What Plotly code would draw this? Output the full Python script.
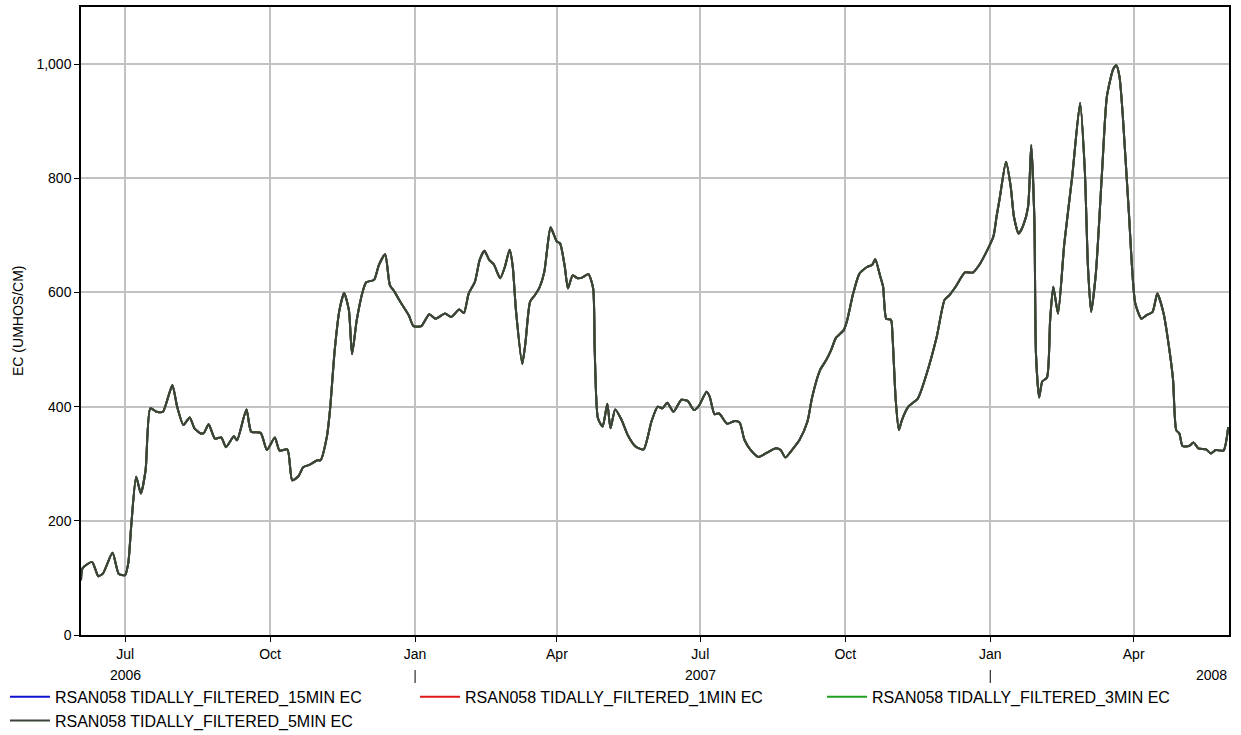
import plotly.graph_objects as go

# Tidally filtered EC at RSAN058 (umhos/cm), read on irregular dates
dates = [
    "2006-06-03", "2006-06-04", "2006-06-10", "2006-06-14", "2006-06-17", "2006-06-23",
    "2006-06-27", "2006-07-01", "2006-07-03", "2006-07-05", "2006-07-08", "2006-07-11",
    "2006-07-14", "2006-07-17", "2006-07-21", "2006-07-25", "2006-07-28", "2006-07-31",
    "2006-08-03", "2006-08-07", "2006-08-11", "2006-08-14", "2006-08-18", "2006-08-20",
    "2006-08-23", "2006-08-27", "2006-08-31", "2006-09-03", "2006-09-08", "2006-09-10",
    "2006-09-16", "2006-09-19", "2006-09-25", "2006-09-29", "2006-10-04", "2006-10-07",
    "2006-10-12", "2006-10-15", "2006-10-19", "2006-10-22", "2006-10-26", "2006-10-31",
    "2006-11-02", "2006-11-06", "2006-11-08", "2006-11-11", "2006-11-14", "2006-11-17",
    "2006-11-20", "2006-11-22", "2006-11-25", "2006-11-29", "2006-12-01", "2006-12-06",
    "2006-12-09", "2006-12-13", "2006-12-16", "2006-12-19", "2006-12-23", "2006-12-28",
    "2006-12-31", "2007-01-05", "2007-01-10", "2007-01-14", "2007-01-20", "2007-01-24",
    "2007-01-29", "2007-02-01", "2007-02-04", "2007-02-08", "2007-02-11", "2007-02-14",
    "2007-02-17", "2007-02-20", "2007-02-24", "2007-02-27", "2007-03-02", "2007-03-04",
    "2007-03-06", "2007-03-10", "2007-03-12", "2007-03-15", "2007-03-18", "2007-03-21",
    "2007-03-24", "2007-03-26", "2007-03-28", "2007-04-01", "2007-04-03", "2007-04-06",
    "2007-04-08", "2007-04-11", "2007-04-14", "2007-04-17", "2007-04-21", "2007-04-24",
    "2007-04-25", "2007-04-27", "2007-04-30", "2007-05-03", "2007-05-05", "2007-05-08",
    "2007-05-12", "2007-05-16", "2007-05-21", "2007-05-26", "2007-05-31", "2007-06-04",
    "2007-06-07", "2007-06-10", "2007-06-14", "2007-06-19", "2007-06-23", "2007-06-27",
    "2007-06-30", "2007-07-05", "2007-07-07", "2007-07-10", "2007-07-13", "2007-07-18",
    "2007-07-23", "2007-07-26", "2007-07-29", "2007-08-02", "2007-08-07", "2007-08-12",
    "2007-08-18", "2007-08-21", "2007-08-24", "2007-08-29", "2007-09-02", "2007-09-07",
    "2007-09-10", "2007-09-15", "2007-09-19", "2007-09-22", "2007-09-25", "2007-09-30",
    "2007-10-02", "2007-10-06", "2007-10-10", "2007-10-15", "2007-10-18", "2007-10-20",
    "2007-10-23", "2007-10-25", "2007-10-27", "2007-10-30", "2007-10-31", "2007-11-02",
    "2007-11-04", "2007-11-06", "2007-11-10", "2007-11-16", "2007-11-21", "2007-11-28",
    "2007-12-03", "2007-12-06", "2007-12-10", "2007-12-16", "2007-12-21", "2007-12-25",
    "2007-12-29", "2008-01-03", "2008-01-05", "2008-01-07", "2008-01-11", "2008-01-14",
    "2008-01-16", "2008-01-19", "2008-01-22", "2008-01-25", "2008-01-27", "2008-01-29",
    "2008-01-30", "2008-02-01", "2008-02-03", "2008-02-06", "2008-02-08", "2008-02-10",
    "2008-02-13", "2008-02-17", "2008-02-22", "2008-02-27", "2008-03-01", "2008-03-03",
    "2008-03-05", "2008-03-08", "2008-03-12", "2008-03-15", "2008-03-19", "2008-03-21",
    "2008-03-23", "2008-03-25", "2008-03-29", "2008-04-02", "2008-04-06", "2008-04-09",
    "2008-04-13", "2008-04-16", "2008-04-20", "2008-04-24", "2008-04-26", "2008-04-28",
    "2008-04-30", "2008-05-02", "2008-05-06", "2008-05-09", "2008-05-12", "2008-05-17",
    "2008-05-20", "2008-05-23", "2008-05-28", "2008-05-31",
]

ec = [
    96, 117, 128, 103, 108, 144,
    107, 105, 126, 196, 277, 248,
    289, 397, 391, 391, 414, 438,
    400, 368, 381, 362, 353, 354,
    369, 344, 346, 329, 348, 341,
    395, 356, 354, 324, 346, 323,
    325, 271, 278, 294, 298, 306,
    306, 347, 394, 499, 569, 599,
    569, 492, 552, 604, 618, 622,
    648, 667, 613, 601, 582, 560,
    541, 541, 562, 554, 563, 557,
    570, 564, 598, 619, 657, 673,
    657, 649, 625, 645, 675, 645,
    569, 475, 511, 584, 595, 609,
    636, 680, 714, 689, 686, 645,
    607, 630, 625, 626, 632, 607,
    499, 380, 365, 405, 362, 395,
    377, 350, 330, 325, 374, 400,
    397, 407, 391, 412, 410, 394,
    401, 426, 417, 387, 388, 370,
    375, 372, 342, 324, 312, 319,
    327, 324, 311, 327, 342, 374,
    417, 464, 482, 499, 520, 534,
    549, 598, 633, 645, 648, 658,
    630, 610, 554, 552, 522, 412,
    359, 377, 400, 414, 452, 522,
    587, 595, 610, 635, 635, 648,
    668, 698, 733, 765, 829, 785,
    733, 703, 718, 750, 858, 727,
    493, 416, 444, 451, 552, 610,
    563, 686, 803, 932, 814, 645,
    566, 633, 814, 943, 991, 998,
    978, 914, 738, 581, 554, 560,
    566, 598, 563, 493, 447, 359,
    353, 331, 331, 337, 327, 325,
    318, 324, 323, 364,
]

series_names = [
    "RSAN058 TIDALLY_FILTERED_15MIN EC",
    "RSAN058 TIDALLY_FILTERED_1MIN EC",
    "RSAN058 TIDALLY_FILTERED_3MIN EC",
    "RSAN058 TIDALLY_FILTERED_5MIN EC",
]
series_colors = ["#1010d0", "#e01818", "#20a020", "#3a4239"]
# legend column each series is listed in
series_legends = ["legend", "legend2", "legend3", "legend"]

# Axis ticks
month_ticks = ["2006-07-01", "2006-10-01", "2007-01-01", "2007-04-01",
               "2007-07-01", "2007-10-01", "2008-01-01", "2008-04-01"]
month_labels = ["Jul", "Oct", "Jan", "Apr", "Jul", "Oct", "Jan", "Apr"]
year_label_dates = ["2006-07-01", "2007-07-01"]
year_labels = ["2006", "2007"]
year_breaks = ["2007-01-01", "2008-01-01"]
y_ticks = [0, 200, 400, 600, 800, 1000]
y_title = "EC (UMHOS/CM)"

FONT = "Liberation Sans, Arial, sans-serif"

fig = go.Figure()
for name, color, lg in zip(series_names, series_colors, series_legends):
    fig.add_trace(go.Scatter(
        x=dates, y=ec, mode="lines", name=name, legend=lg,
        line=dict(color=color, width=2, shape="spline", smoothing=0.6),
    ))

# year labels under the month ticks
for d, t in zip(year_label_dates, year_labels):
    fig.add_annotation(x=d, xref="x", y=-0.0637, yref="paper", text=t,
                       showarrow=False, xanchor="center", yanchor="middle",
                       font=dict(family=FONT, size=14, color="#000"))
fig.add_annotation(x=1, xref="paper", y=-0.0637, yref="paper", text="2008",
                   showarrow=False, xanchor="right", yanchor="middle",
                   font=dict(family=FONT, size=14, color="#000"))

# y-axis title
fig.add_annotation(x=-0.0549, xref="paper", y=0.5, yref="paper", text=y_title,
                   textangle=-90, showarrow=False, xanchor="center",
                   yanchor="middle", font=dict(family=FONT, size=14, color="#000"))

# year separators
for d in year_breaks:
    fig.add_shape(type="line", xref="x", yref="paper", x0=d, x1=d,
                  y0=-0.0557, y1=-0.0764, line=dict(color="#000", width=1))

legend_style = dict(
    orientation="v", xref="container", yref="container",
    y=0.075, xanchor="left", yanchor="top",
    itemwidth=40, tracegroupgap=0,
    font=dict(family=FONT, size=16, color="#000"),
    bgcolor="rgba(0,0,0,0)",
)

fig.update_layout(
    width=1241, height=735,
    margin=dict(l=81, r=12, t=7, b=100, autoexpand=False),
    paper_bgcolor="white", plot_bgcolor="white",
    font=dict(family=FONT, size=14, color="#000"),
    showlegend=True,
    legend=dict(x=0.004, **legend_style),
    legend2=dict(x=0.3344, **legend_style),
    legend3=dict(x=0.6624, **legend_style),
    xaxis=dict(
        type="date", range=["2006-06-03", "2008-05-31 12:00"],
        tickmode="array", tickvals=month_ticks, ticktext=month_labels,
        ticks="outside", ticklen=5, tickcolor="#000", tickwidth=1,
        showgrid=True, gridcolor="#c2c2c2", gridwidth=2,
        showline=True, linecolor="#000", linewidth=1.5, mirror=True,
        zeroline=False, tickfont=dict(size=14),
    ),
    yaxis=dict(
        range=[0, 1100], tickmode="array", tickvals=y_ticks,
        tickformat=",d",
        ticks="outside", ticklen=5, tickcolor="#000", tickwidth=1,
        showgrid=True, gridcolor="#c2c2c2", gridwidth=2,
        showline=True, linecolor="#000", linewidth=1.5, mirror=True,
        zeroline=False, tickfont=dict(size=14),
    ),
)

fig.write_html("out.html")
